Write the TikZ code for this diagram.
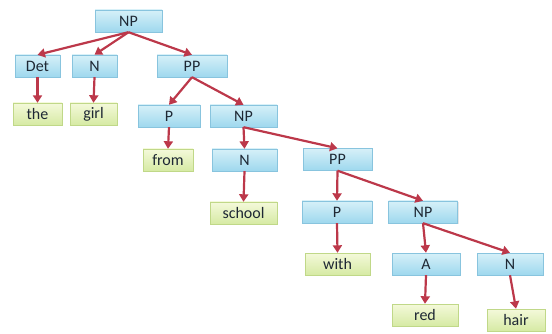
\documentclass[tikz,border=0pt]{standalone}
\usepackage{fontspec}
\setmainfont{Carlito}
\usepackage{tikz}
\usetikzlibrary{arrows.meta,shadows}
\definecolor{catTop}{RGB}{214,240,248}
\definecolor{catBot}{RGB}{158,216,238}
\definecolor{catLine}{RGB}{136,196,222}
\definecolor{wrdTop}{RGB}{244,249,218}
\definecolor{wrdBot}{RGB}{214,234,164}
\definecolor{wrdLine}{RGB}{192,216,136}
\definecolor{arrRed}{RGB}{188,56,74}
\definecolor{ink}{RGB}{30,40,52}
\tikzset{
box/.style={rectangle,minimum height=22pt,inner sep=0pt,font=\fontsize{16}{19}\selectfont,text=ink,
  drop shadow={shadow xshift=1pt,shadow yshift=-1pt,opacity=0.2}},
cat/.style={box,draw=catLine,top color=catTop,bottom color=catBot,minimum width=#1},
wrd/.style={box,draw=wrdLine,top color=wrdTop,bottom color=wrdBot,minimum width=#1},
arr/.style={draw=arrRed,line width=2.2pt,-{Triangle[width=9pt,length=7.5pt]}}
}

\begin{document}
\begin{tikzpicture}[x=1pt,y=-1pt]
\useasboundingbox (0,0) rectangle (552,334);
% categories
\node[cat=67pt] (np0) at (128.5,21) {NP};
\node[cat=45pt] (det) at (37.5,66) {Det};
\node[cat=45pt] (n1) at (94.5,66) {N};
\node[cat=70pt] (pp1) at (192,66) {PP};
\node[cat=62pt] (p1) at (169,116) {P};
\node[cat=67pt] (np1) at (243.5,116) {NP};
\node[cat=65pt] (n2) at (244.5,160) {N};
\node[cat=69pt] (pp2) at (337.5,159.5) {PP};
\node[cat=70pt] (p2) at (337,212) {P};
\node[cat=69pt] (np2) at (423,212) {NP};
\node[cat=68pt] (a) at (426,264) {A};
\node[cat=66pt] (n3) at (510,264) {N};
% words
\node[wrd=49pt] (the) at (37.5,114) {the};
\node[wrd=47pt] (girl) at (93.5,114) {girl};
\node[wrd=50pt] (from) at (168,160) {from};
\node[wrd=67pt] (school) at (243.5,213) {school};
\node[wrd=65pt] (with) at (337.5,264) {with};
\node[wrd=66pt] (red) at (425,315) {red};
\node[wrd=58pt] (hair) at (516,320) {hair};
% branches
\foreach \a/\b in {np0/det,np0/n1,np0/pp1,det/the,n1/girl,pp1/p1,pp1/np1,p1/from,np1/n2,np1/pp2,
  n2/school,pp2/p2,pp2/np2,p2/with,np2/a,np2/n3,a/red,n3/hair}{
\draw[arr] (\a.south) -- (\b.north);}
\end{tikzpicture}
\end{document}
